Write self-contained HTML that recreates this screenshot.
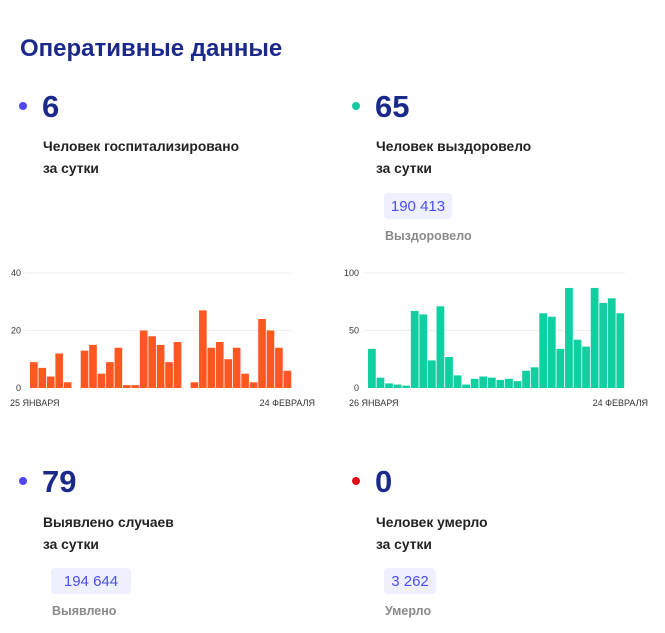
<!DOCTYPE html>
<html><head><meta charset="utf-8"><style>
body{margin:0;background:#fff;}
svg{display:block;font-family:"Liberation Sans","DejaVu Sans",sans-serif;}
.t{font-weight:bold;font-size:24px;fill:#1b2a8a;}
.n{font-weight:bold;font-size:31px;fill:#1b2a8a;}
.l{font-weight:bold;font-size:13.8px;fill:#222;}
.b{font-size:15px;fill:#4b4ef0;}
.g{font-size:12.5px;fill:#8a8a8a;font-weight:bold;}
.ax{font-size:9px;fill:#333;}
</style></head><body>
<svg width="665" height="633" viewBox="0 0 665 633">
<text x="20" y="56" class="t">Оперативные данные</text>

<circle cx="23" cy="106" r="4" fill="#5046f5"/>
<text x="42" y="117" class="n">6</text>
<text x="43" y="151" class="l">Человек госпитализировано</text>
<text x="43" y="173" class="l">за сутки</text>

<circle cx="356" cy="106" r="4" fill="#12c9a0"/>
<text x="375" y="117" class="n">65</text>
<text x="376" y="151" class="l">Человек выздоровело</text>
<text x="376" y="173" class="l">за сутки</text>
<rect x="384" y="193" width="68" height="26" rx="4" fill="#eef0ff"/>
<text x="418" y="211" class="b" text-anchor="middle">190 413</text>
<text x="385" y="240" class="g">Выздоровело</text>

<g id="c1"></g>
<g id="c2"></g>

<circle cx="23" cy="481" r="4" fill="#5046f5"/>
<text x="42" y="492" class="n">79</text>
<text x="43" y="527" class="l">Выявлено случаев</text>
<text x="43" y="549" class="l">за сутки</text>
<rect x="51" y="568" width="80" height="26" rx="4" fill="#eef0ff"/>
<text x="91" y="586" class="b" text-anchor="middle">194 644</text>
<text x="52" y="615" class="g">Выявлено</text>

<circle cx="356" cy="481" r="4" fill="#e0111a"/>
<text x="375" y="492" class="n">0</text>
<text x="376" y="527" class="l">Человек умерло</text>
<text x="376" y="549" class="l">за сутки</text>
<rect x="384" y="568" width="52" height="26" rx="4" fill="#eef0ff"/>
<text x="410" y="586" class="b" text-anchor="middle">3 262</text>
<text x="385" y="615" class="g">Умерло</text>
</svg>
<script>
function chart(id,vals,x0,x1,max,ticks,color,lab1,lab2,gx0,lx){
 var g=document.getElementById(id),s='',base=388,top=273,sc=(base-top)/max,w=(x1-x0)/vals.length;
 ticks.forEach(function(t){var y=base-t*sc;
  if(t>0)s+='<line x1="'+gx0+'" x2="'+x1+'" y1="'+y+'" y2="'+y+'" stroke="#eee" stroke-width="1"/>';
  s+='<text class="ax" x="'+(gx0-4)+'" y="'+(y+3)+'" text-anchor="end">'+t+'</text>';});
 vals.forEach(function(v,i){if(v>0){var h=v*sc;s+='<rect x="'+(x0+i*w)+'" y="'+(base-h)+'" width="'+(w-0.8)+'" height="'+h+'" fill="'+color+'"/>';}});
 s+='<text class="ax" x="'+lx+'" y="406">'+lab1+'</text>';
 s+='<text class="ax" x="'+(x1+23)+'" y="406" text-anchor="end">'+lab2+'</text>';
 g.innerHTML=s;
}
chart('c1',[9,7,4,12,2,0,13,15,5,9,14,1,1,20,18,15,9,16,0,2,27,14,16,10,14,5,2,24,20,14,6],30,292,40,[0,20,40],'#ff5722','25 ЯНВАРЯ','24 ФЕВРАЛЯ',25,10);
chart('c2',[34,9,4,3,2,67,64,24,71,27,11,3,8,10,9,7,8,6,15,18,65,62,34,87,42,36,87,74,78,65],368,625,100,[0,50,100],'#10cfa0','26 ЯНВАРЯ','24 ФЕВРАЛЯ',363,349);
</script>
</body></html>
